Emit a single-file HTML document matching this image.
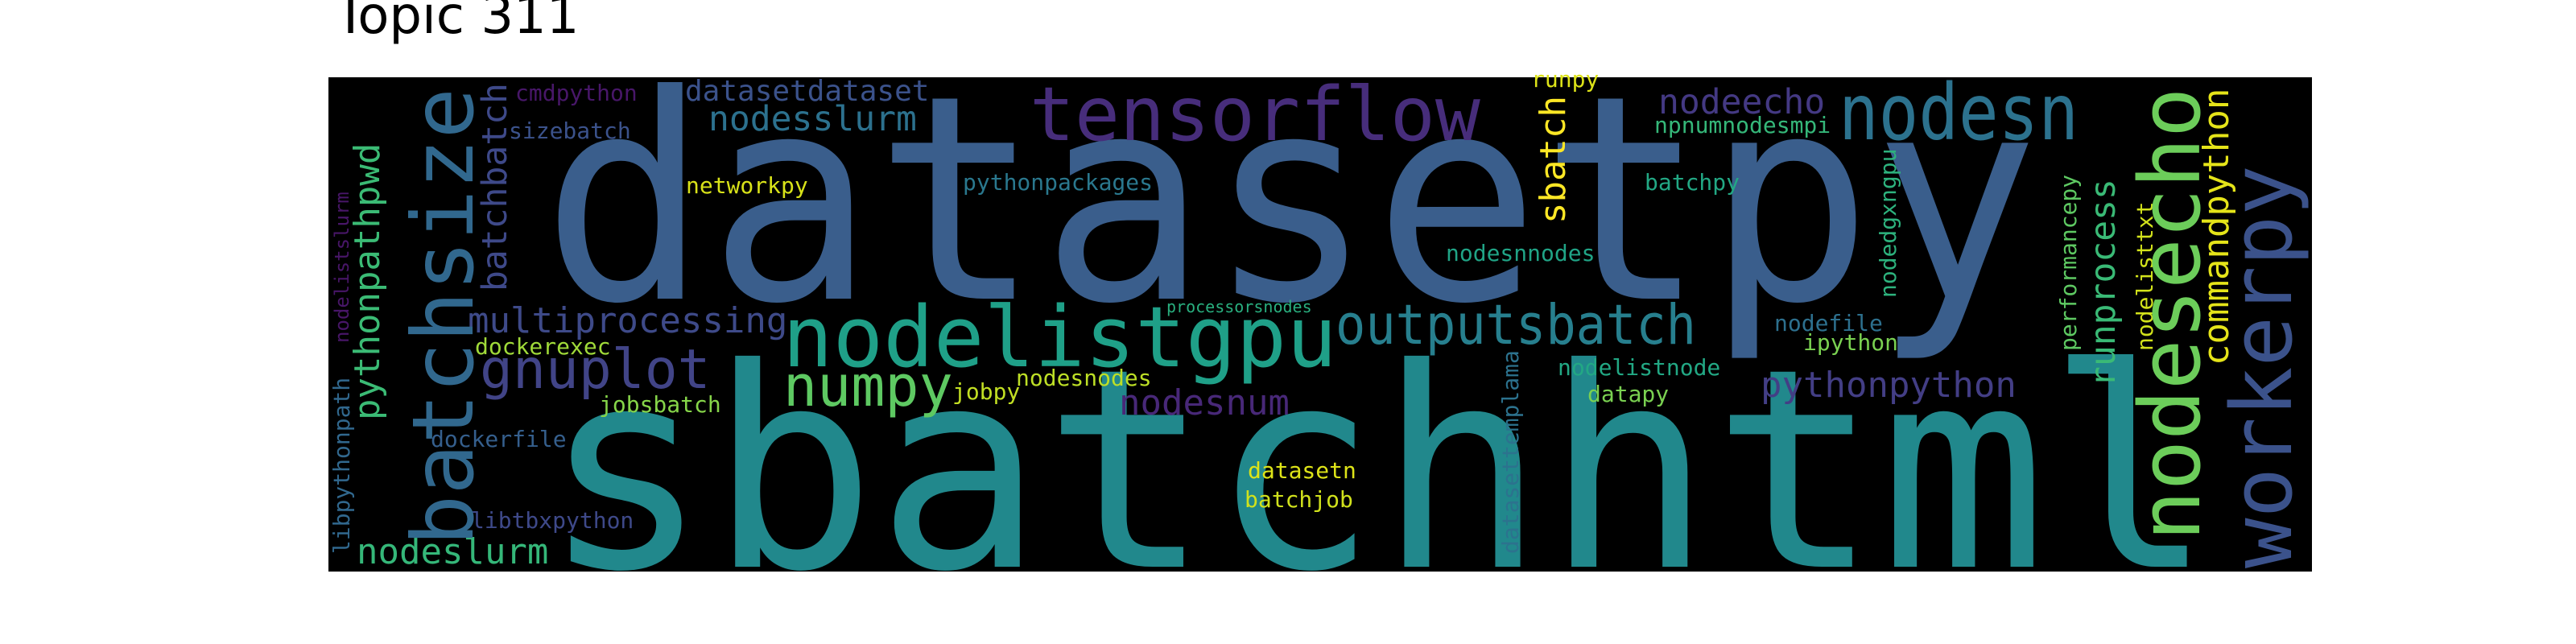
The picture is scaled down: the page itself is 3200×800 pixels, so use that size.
<!DOCTYPE html>
<html><head><meta charset="utf-8"><style>
html,body{margin:0;padding:0;background:#fff;width:3200px;height:800px;overflow:hidden}
svg{display:block}
.w{font-family:"DejaVu Sans Mono","Liberation Mono",monospace}
</style></head><body>
<svg width="3200" height="800" xmlns="http://www.w3.org/2000/svg">
<text x="416" y="41" font-family="DejaVu Sans, Liberation Sans, sans-serif" font-size="64" fill="#000">Topic 311</text>
<rect x="408" y="96" width="2464" height="614" fill="#000"/>
<g class="w">
<text x="673" y="371" font-size="354" fill="#3a5e8c" textLength="1860" lengthAdjust="spacingAndGlyphs">datasetpy</text>
<text x="673" y="704" font-size="345" fill="#21888c">sbatchhtml</text>
<text x="1279" y="174" font-size="93" fill="#472d7b">tensorflow</text>
<text x="2284" y="173" font-size="96" fill="#2c728e" textLength="298" lengthAdjust="spacingAndGlyphs">nodesn</text>
<text x="972" y="455" font-size="104" fill="#1fa088">nodelistgpu</text>
<text x="1659" y="427" font-size="69" fill="#277f8e" textLength="448" lengthAdjust="spacingAndGlyphs">outputsbatch</text>
<text x="973" y="504" font-size="70" fill="#5ec962">numpy</text>
<text x="596" y="482" font-size="68" fill="#414487">gnuplot</text>
<text x="581" y="413" font-size="44" fill="#3e4a89">multiprocessing</text>
<text x="880" y="162" font-size="43" fill="#2c718e">nodesslurm</text>
<text x="851" y="125" font-size="36" fill="#3b528b">datasetdataset</text>
<text x="640" y="125" font-size="28" fill="#481769">cmdpython</text>
<text x="632" y="172" font-size="28" fill="#3b528b">sizebatch</text>
<text x="852" y="240" font-size="28" fill="#d8e219">networkpy</text>
<text x="1196" y="236" font-size="28" fill="#2a788e">pythonpackages</text>
<text x="1449" y="388" font-size="20" fill="#29af7f">processorsnodes</text>
<text x="590" y="440" font-size="28" fill="#a0da39">dockerexec</text>
<text x="1262" y="479" font-size="28" fill="#bddf26">nodesnodes</text>
<text x="1183" y="496" font-size="28" fill="#c2df23">jobpy</text>
<text x="744" y="512" font-size="28" fill="#86d549">jobsbatch</text>
<text x="1390" y="515" font-size="44" fill="#482878">nodesnum</text>
<text x="535" y="555" font-size="28" fill="#355f8d">dockerfile</text>
<text x="585" y="656" font-size="28" fill="#3e4989">libtbxpython</text>
<text x="443" y="700" font-size="44" fill="#35b779">nodeslurm</text>
<text x="1550" y="594" font-size="28" fill="#dde318">datasetn</text>
<text x="1546" y="630" font-size="28" fill="#d0e11c">batchjob</text>
<text x="1902" y="108" font-size="28" fill="#dde318">runpy</text>
<text x="2060" y="141" font-size="43" fill="#443983">nodeecho</text>
<text x="2055" y="165" font-size="28" fill="#35b779">npnumnodesmpi</text>
<text x="2043" y="236" font-size="28" fill="#22a884">batchpy</text>
<text x="1796" y="324" font-size="28" fill="#20a486">nodesnnodes</text>
<text x="2204" y="411" font-size="28" fill="#2d708e">nodefile</text>
<text x="2240" y="435" font-size="28" fill="#7ad151">ipython</text>
<text x="1935" y="466" font-size="28" fill="#22a884">nodelistnode</text>
<text x="1972" y="499" font-size="28" fill="#7ad151">datapy</text>
<text x="2187" y="493" font-size="44" fill="#433e85">pythonpython</text>
<text transform="translate(587,678) rotate(-90)" font-size="105" fill="#31688e">batchsize</text>
<text transform="translate(629,362) rotate(-90)" font-size="43" fill="#3e4989">batchbatch</text>
<text transform="translate(471,522) rotate(-90)" font-size="44" fill="#3bbb75">pythonpathpwd</text>
<text transform="translate(434,688) rotate(-90)" font-size="28" fill="#31688e">libpythonpath</text>
<text transform="translate(433,426) rotate(-90)" font-size="24" fill="#481668">nodelistslurm</text>
<text transform="translate(1944,278) rotate(-90)" font-size="44" fill="#fde725">sbatch</text>
<text transform="translate(2355,370) rotate(-90)" font-size="28" fill="#2db27d">nodedgxngpu</text>
<text transform="translate(1886,688) rotate(-90)" font-size="28" fill="#2c728e">datasettemplama</text>
<text transform="translate(2579,436) rotate(-90)" font-size="28" fill="#5ec962">performancepy</text>
<text transform="translate(2627,481) rotate(-90)" font-size="43" fill="#3aba76">runprocess</text>
<text transform="translate(2674,436) rotate(-90)" font-size="28" fill="#d2e21b">nodelisttxt</text>
<text transform="translate(2732,672) rotate(-90)" font-size="104" fill="#6ccd5a">nodesecho</text>
<text transform="translate(2768,454) rotate(-90)" font-size="44" fill="#e5e419">commandpython</text>
<text transform="translate(2846,706) rotate(-90)" font-size="104" fill="#3b528b">workerpy</text>
</g>
</svg>
</body></html>
